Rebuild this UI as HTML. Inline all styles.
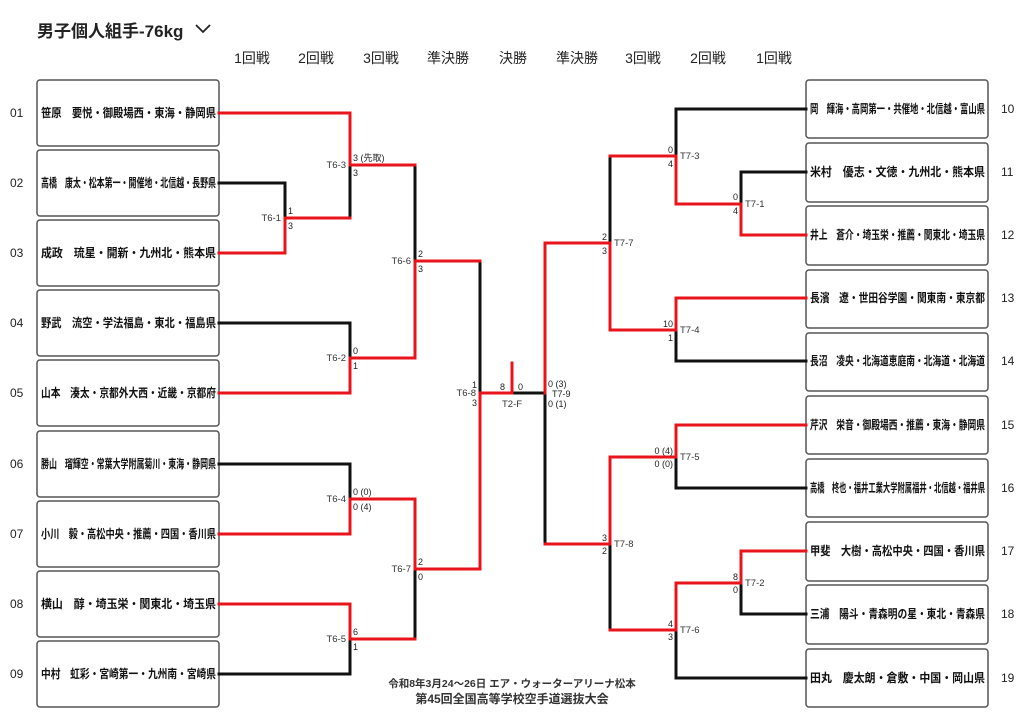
<!DOCTYPE html>
<html><head><meta charset="utf-8"><style>
html,body{margin:0;padding:0;background:#fff;}
svg{display:block;font-family:"Liberation Sans","Noto Sans CJK JP",sans-serif;}
.b{stroke:#111;stroke-width:3;fill:none;stroke-linecap:square}
.r{stroke:#e8141c;stroke-width:3;fill:none;stroke-linecap:square}
.box{fill:#fff;stroke:#555;stroke-width:1.5}
.nm{font-size:12px;font-weight:bold;fill:#111}
.no{font-size:12px;fill:#222}
.s{font-size:9px;fill:#222}
.t{font-size:9.5px;fill:#333}
.h{font-size:14px;fill:#222}
</style></head><body>
<svg width="1024" height="724" viewBox="0 0 1024 724">
<text x="37" y="37" style="font-size:17px;font-weight:bold" fill="#222">男子個人組手-76kg</text>
<path d="M196 25 L203 32 L210 25" stroke="#222" stroke-width="1.8" fill="none"/>
<g class="h" text-anchor="middle">
<text x="252" y="63">1回戦</text><text x="316" y="63">2回戦</text><text x="381" y="63">3回戦</text>
<text x="448" y="63">準決勝</text><text x="513" y="63">決勝</text><text x="577" y="63">準決勝</text>
<text x="643" y="63">3回戦</text><text x="708" y="63">2回戦</text><text x="774" y="63">1回戦</text>
</g>
<g>
<rect class="box" x="37" y="80" width="182" height="66" rx="3"/>
<rect class="box" x="37" y="150" width="182" height="66" rx="3"/>
<rect class="box" x="37" y="220" width="182" height="66" rx="3"/>
<rect class="box" x="37" y="290" width="182" height="66" rx="3"/>
<rect class="box" x="37" y="360" width="182" height="66" rx="3"/>
<rect class="box" x="37" y="431" width="182" height="66" rx="3"/>
<rect class="box" x="37" y="501" width="182" height="66" rx="3"/>
<rect class="box" x="37" y="571" width="182" height="66" rx="3"/>
<rect class="box" x="37" y="641" width="182" height="66" rx="3"/>
</g>
<g class="nm">
<text x="41" y="117" textLength="175" lengthAdjust="spacingAndGlyphs">笹原　要悦・御殿場西・東海・静岡県</text>
<text x="41" y="187" textLength="175" lengthAdjust="spacingAndGlyphs">高橋　康太・松本第一・開催地・北信越・長野県</text>
<text x="41" y="257" textLength="175" lengthAdjust="spacingAndGlyphs">成政　琉星・開新・九州北・熊本県</text>
<text x="41" y="327" textLength="175" lengthAdjust="spacingAndGlyphs">野武　流空・学法福島・東北・福島県</text>
<text x="41" y="397" textLength="175" lengthAdjust="spacingAndGlyphs">山本　湊太・京都外大西・近畿・京都府</text>
<text x="41" y="468" textLength="175" lengthAdjust="spacingAndGlyphs">勝山　瑠輝空・常葉大学附属菊川・東海・静岡県</text>
<text x="41" y="538" textLength="175" lengthAdjust="spacingAndGlyphs">小川　毅・高松中央・推薦・四国・香川県</text>
<text x="41" y="608" textLength="175" lengthAdjust="spacingAndGlyphs">横山　醇・埼玉栄・関東北・埼玉県</text>
<text x="41" y="678" textLength="175" lengthAdjust="spacingAndGlyphs">中村　虹彩・宮崎第一・九州南・宮崎県</text>
</g>
<g class="no">
<text x="10" y="117">01</text><text x="10" y="187">02</text><text x="10" y="257">03</text><text x="10" y="327">04</text><text x="10" y="397">05</text><text x="10" y="468">06</text><text x="10" y="538">07</text><text x="10" y="608">08</text><text x="10" y="678">09</text>
</g>
<g>
<rect class="box" x="806" y="80" width="182" height="58" rx="3"/>
<rect class="box" x="806" y="143" width="182" height="59" rx="3"/>
<rect class="box" x="806" y="206" width="182" height="59" rx="3"/>
<rect class="box" x="806" y="270" width="182" height="58" rx="3"/>
<rect class="box" x="806" y="333" width="182" height="58" rx="3"/>
<rect class="box" x="806" y="396" width="182" height="58" rx="3"/>
<rect class="box" x="806" y="459" width="182" height="58" rx="3"/>
<rect class="box" x="806" y="522" width="182" height="59" rx="3"/>
<rect class="box" x="806" y="585" width="182" height="59" rx="3"/>
<rect class="box" x="806" y="649" width="182" height="58" rx="3"/>
</g>
<g class="nm">
<text x="810" y="113" textLength="175" lengthAdjust="spacingAndGlyphs">岡　輝海・高岡第一・共催地・北信越・富山県</text>
<text x="810" y="176" textLength="175" lengthAdjust="spacingAndGlyphs">米村　優志・文徳・九州北・熊本県</text>
<text x="810" y="239" textLength="175" lengthAdjust="spacingAndGlyphs">井上　蒼介・埼玉栄・推薦・関東北・埼玉県</text>
<text x="810" y="302" textLength="175" lengthAdjust="spacingAndGlyphs">長濱　遼・世田谷学園・関東南・東京都</text>
<text x="810" y="365" textLength="175" lengthAdjust="spacingAndGlyphs">長沼　凌央・北海道恵庭南・北海道・北海道</text>
<text x="810" y="429" textLength="175" lengthAdjust="spacingAndGlyphs">芹沢　栄音・御殿場西・推薦・東海・静岡県</text>
<text x="810" y="492" textLength="175" lengthAdjust="spacingAndGlyphs">高橋　柊也・福井工業大学附属福井・北信越・福井県</text>
<text x="810" y="555" textLength="175" lengthAdjust="spacingAndGlyphs">甲斐　大樹・高松中央・四国・香川県</text>
<text x="810" y="618" textLength="175" lengthAdjust="spacingAndGlyphs">三浦　陽斗・青森明の星・東北・青森県</text>
<text x="810" y="682" textLength="175" lengthAdjust="spacingAndGlyphs">田丸　慶太朗・倉敷・中国・岡山県</text>
</g>
<g class="no">
<text x="1001" y="113">10</text><text x="1001" y="176">11</text><text x="1001" y="239">12</text><text x="1001" y="302">13</text><text x="1001" y="365">14</text><text x="1001" y="429">15</text><text x="1001" y="492">16</text><text x="1001" y="555">17</text><text x="1001" y="618">18</text><text x="1001" y="682">19</text>
</g>
<g class="b">
<path d="M219 183H285V218"/>
<path d="M350 165V218"/>
<path d="M219 323H350V358"/>
<path d="M415 165V261"/>
<path d="M219 464H350V499"/>
<path d="M350 639V674H219"/>
<path d="M415 569V639"/>
<path d="M480 261V393"/>
<path d="M512 393H545V544"/>
<path d="M806 109H676V156"/>
<path d="M806 172H741V204"/>
<path d="M610 156V243"/>
<path d="M676 330V361H806"/>
<path d="M676 457V488H806"/>
<path d="M741 583V614H806"/>
<path d="M676 630V678H806"/>
<path d="M610 544V630"/>
</g>
<g class="r">
<path d="M219 113H350V165H415"/>
<path d="M219 253H285V218H350"/>
<path d="M219 393H350V358H415"/>
<path d="M415 358V261H480"/>
<path d="M219 534H350V499H415V569H480"/>
<path d="M219 604H350V639H415"/>
<path d="M480 569V393H512V363"/>
<path d="M545 393V243H610V330H676V298H806"/>
<path d="M610 156H676V204H741V235H806"/>
<path d="M545 544H610V457H676V425H806"/>
<path d="M610 630H676V583H741V551H806"/>
</g>
<g class="t" text-anchor="end">
<text x="281" y="221">T6-1</text><text x="346" y="168">T6-3</text><text x="346" y="361">T6-2</text>
<text x="411" y="264">T6-6</text><text x="346" y="502">T6-4</text><text x="346" y="642">T6-5</text>
<text x="411" y="572">T6-7</text><text x="476" y="396">T6-8</text>
</g>
<g class="s">
<text x="288" y="214">1</text><text x="288" y="229">3</text>
<text x="353" y="161">3 (先取)</text><text x="353" y="176">3</text>
<text x="353" y="354">0</text><text x="353" y="369">1</text>
<text x="418" y="257">2</text><text x="418" y="272">3</text>
<text x="353" y="495">0 (0)</text><text x="353" y="510">0 (4)</text>
<text x="353" y="635">6</text><text x="353" y="650">1</text>
<text x="418" y="565">2</text><text x="418" y="580">0</text>
<text x="477" y="388" text-anchor="end">1</text><text x="477" y="406" text-anchor="end">3</text>
<text x="500" y="390">8</text><text x="518" y="390">0</text>
<text x="502" y="407" class="t">T2-F</text>
<text x="548" y="387">0 (3)</text><text x="552" y="397">T7-9</text><text x="548" y="407">0 (1)</text>
</g>
<g class="t">
<text x="745" y="207">T7-1</text><text x="680" y="159">T7-3</text><text x="680" y="333">T7-4</text>
<text x="614" y="246">T7-7</text><text x="680" y="460">T7-5</text><text x="745" y="586">T7-2</text>
<text x="680" y="633">T7-6</text><text x="614" y="547">T7-8</text>
</g>
<g class="s" text-anchor="end">
<text x="738" y="200">0</text><text x="738" y="214">4</text>
<text x="673" y="153">0</text><text x="673" y="167">4</text>
<text x="673" y="327">10</text><text x="673" y="341">1</text>
<text x="607" y="240">2</text><text x="607" y="254">3</text>
<text x="673" y="454">0 (4)</text><text x="673" y="467">0 (0)</text>
<text x="738" y="580">8</text><text x="738" y="593">0</text>
<text x="673" y="627">4</text><text x="673" y="640">3</text>
<text x="607" y="541">3</text><text x="607" y="554">2</text>
</g>
<text x="512" y="687" text-anchor="middle" style="font-size:10.5px;font-weight:bold" fill="#333">令和8年3月24～26日 エア・ウォーターアリーナ松本</text>
<text x="512" y="703" text-anchor="middle" style="font-size:12px;font-weight:bold" fill="#333">第45回全国高等学校空手道選抜大会</text>
</svg>
</body></html>
